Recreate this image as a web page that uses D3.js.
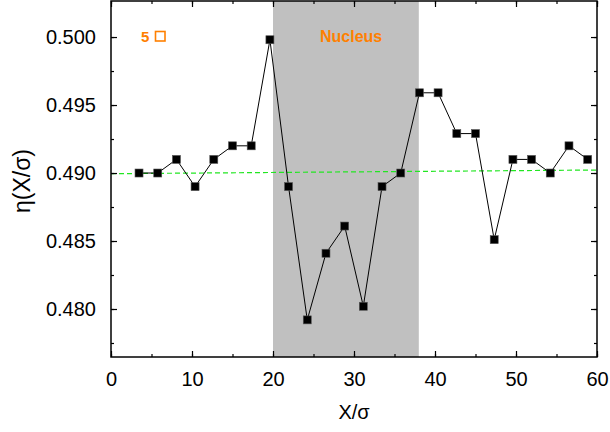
<!DOCTYPE html>
<html>
<head>
<meta charset="utf-8">
<script src="https://cdn.jsdelivr.net/npm/d3@7"></script>
<style>
  html, body { margin: 0; padding: 0; background: #fff; }
  svg { display: block; font-family: "Liberation Sans", Arial, sans-serif; }
</style>
</head>
<body>
<div id="chart"></div>
<script>
// 位置 X/σ と η(X/σ)
var xs = [3.46, 5.77, 8.08, 10.38, 12.69, 15.00, 17.31, 19.62, 21.92, 24.23,
          26.54, 28.85, 31.15, 33.46, 35.77, 38.08, 40.38, 42.69, 45.00, 47.31,
          49.62, 51.92, 54.23, 56.54, 58.85];
var eta = [0.4900, 0.4900, 0.4910, 0.4890, 0.4910, 0.4920, 0.4920, 0.4998, 0.4890, 0.4792,
           0.4841, 0.4861, 0.4802, 0.4890, 0.4900, 0.4959, 0.4959, 0.4929, 0.4929, 0.4851,
           0.4910, 0.4910, 0.4900, 0.4920, 0.4910];
var fitLine = [[0, 0.48995], [60, 0.49022]];  // 緑の破線
var nucleus = [20, 38];                        // 灰色の領域
var xTicks = [0, 10, 20, 30, 40, 50, 60];
var yTicks = [0.480, 0.485, 0.490, 0.495, 0.500];

var W = 610, H = 432, ml = 111, mr = 13, mt = 1, mb = 75;
var svg = d3.select('#chart').append('svg').attr('width', W).attr('height', H);

var x = d3.scaleLinear().domain([0, 60]).range([ml, W - mr]);
var y = d3.scaleLinear().domain([0.47647, 0.50265]).range([H - mb, mt]);

// Nucleus 領域
svg.append('rect')
    .attr('x', x(nucleus[0])).attr('y', mt)
    .attr('width', x(nucleus[1]) - x(nucleus[0])).attr('height', H - mb - mt)
    .attr('fill', '#c0c0c0');

// 破線
svg.append('line')
    .attr('x1', x(fitLine[0][0])).attr('y1', y(fitLine[0][1]))
    .attr('x2', x(fitLine[1][0])).attr('y2', y(fitLine[1][1]))
    .attr('stroke', '#22e622').attr('stroke-width', 1.2).attr('stroke-dasharray', '5,3');

// 折れ線と点
var pts = xs.map(function (d, i) { return [d, eta[i]]; });
svg.append('path').datum(pts)
    .attr('d', d3.line().x(function (d) { return x(d[0]); }).y(function (d) { return y(d[1]); }))
    .attr('fill', 'none').attr('stroke', '#000').attr('stroke-width', 1);
svg.selectAll('rect.pt').data(pts).enter().append('rect').attr('class', 'pt')
    .attr('x', function (d) { return x(d[0]) - 4; })
    .attr('y', function (d) { return y(d[1]) - 4; })
    .attr('width', 8).attr('height', 8)
    .attr('fill', '#000').attr('stroke', '#555').attr('stroke-width', 0.6);

// 軸（内向き目盛り）
function style(g) {
    g.select('.domain').remove();
    g.selectAll('line').attr('stroke', '#000').attr('stroke-width', 1.2);
    g.selectAll('text').attr('font-size', 20).attr('fill', '#000');
}
var xMinor = d3.range(0, 61, 5);
var yMinor = d3.range(0.4775, 0.5025, 0.0025);

svg.append('g').attr('transform', 'translate(0,' + (H - mb) + ')')
    .call(d3.axisBottom(x).tickValues(xMinor).tickSize(-3).tickFormat('')).call(style);
svg.append('g').attr('transform', 'translate(0,' + (H - mb) + ')')
    .call(d3.axisBottom(x).tickValues(xTicks).tickSize(-6).tickPadding(15).tickFormat(d3.format('d'))).call(style);
svg.append('g').attr('transform', 'translate(0,' + mt + ')')
    .call(d3.axisTop(x).tickValues(xMinor).tickSize(-3).tickFormat('')).call(style);
svg.append('g').attr('transform', 'translate(0,' + mt + ')')
    .call(d3.axisTop(x).tickValues(xTicks).tickSize(-6).tickFormat('')).call(style);

svg.append('g').attr('transform', 'translate(' + ml + ',0)')
    .call(d3.axisLeft(y).tickValues(yMinor).tickSize(-3).tickFormat('')).call(style);
svg.append('g').attr('transform', 'translate(' + ml + ',0)')
    .call(d3.axisLeft(y).tickValues(yTicks).tickSize(-6).tickPadding(15).tickFormat(d3.format('.3f'))).call(style);
svg.append('g').attr('transform', 'translate(' + (W - mr) + ',0)')
    .call(d3.axisRight(y).tickValues(yMinor).tickSize(-3).tickFormat('')).call(style);
svg.append('g').attr('transform', 'translate(' + (W - mr) + ',0)')
    .call(d3.axisRight(y).tickValues(yTicks).tickSize(-6).tickFormat('')).call(style);

// 枠
svg.append('rect').attr('x', ml).attr('y', mt).attr('width', W - mr - ml).attr('height', H - mb - mt)
    .attr('fill', 'none').attr('stroke', '#000').attr('stroke-width', 1.5);

// 軸ラベル
svg.append('text').attr('x', (ml + W - mr) / 2).attr('y', 419)
    .attr('text-anchor', 'middle').attr('font-size', 20).text('X/σ');
svg.append('text').attr('transform', 'translate(30,181) rotate(-90)')
    .attr('text-anchor', 'middle').attr('font-size', 23).text('η(X/σ)');

// 注記
svg.append('text').attr('x', 141).attr('y', 42)
    .attr('font-size', 15).attr('font-weight', 'bold').attr('fill', '#ff8000').text('5');
svg.append('rect').attr('x', 155.5).attr('y', 31.5).attr('width', 9.5).attr('height', 9.5)
    .attr('fill', 'none').attr('stroke', '#ff8000').attr('stroke-width', 1.6);
svg.append('text').attr('x', 320).attr('y', 42)
    .attr('font-size', 16).attr('font-weight', 'bold').attr('fill', '#ff8000').text('Nucleus');
</script>
</body>
</html>
